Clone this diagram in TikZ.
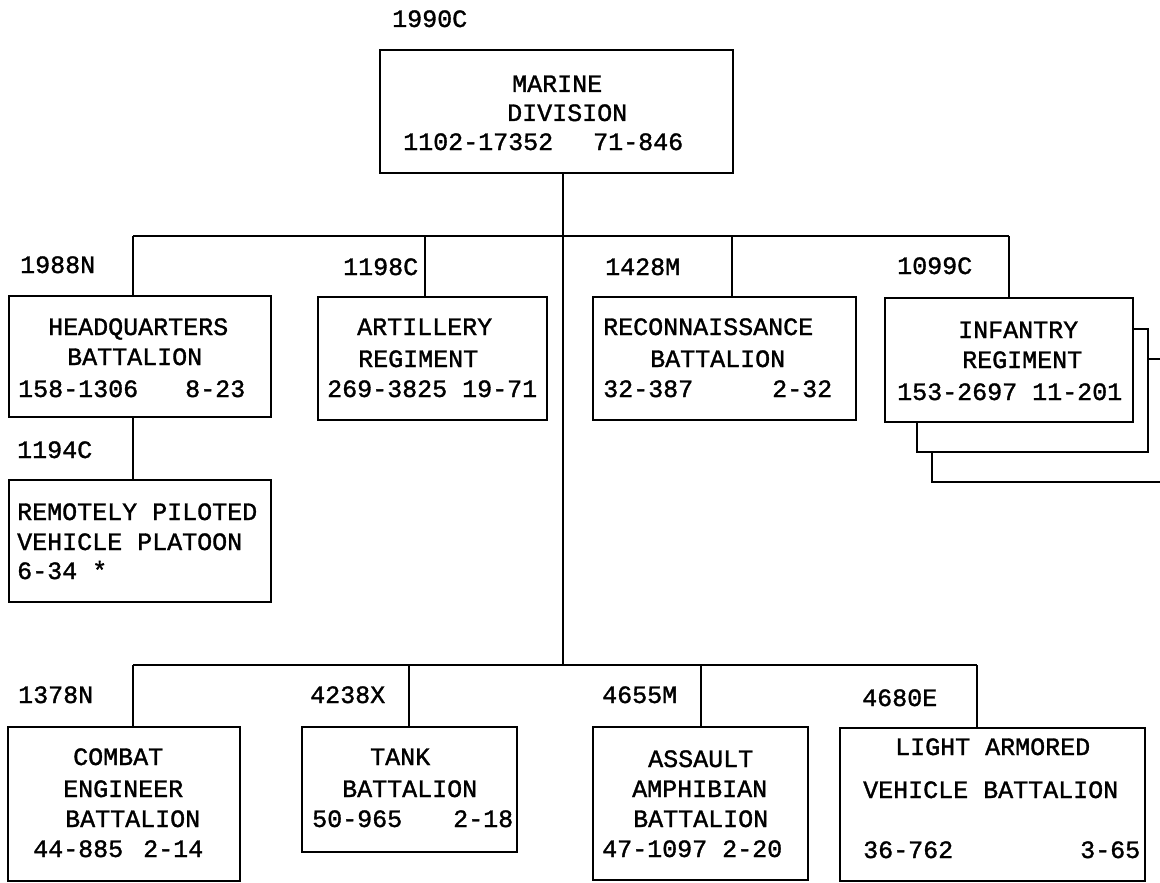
\documentclass[tikz,border=0pt]{standalone}
\usepackage{fontspec}
\newfontfamily\tw{Liberation Mono}[FakeBold=1.3]
\begin{document}
\begin{tikzpicture}[x=1pt,y=-1pt,
  box/.style={draw=black,line width=2pt,inner sep=0pt},
  ln/.style={draw=black,line width=2pt},
  txt/.style={inner sep=0pt,anchor=base west,font=\tw\fontsize{25}{25}\selectfont,text=black}]
\useasboundingbox (0,0) rectangle (1160,883);
\fill[white] (0,0) rectangle (1160,883);
% boxes (l,t)-(r,b)
\newcommand\mybox[5]{\node[box,minimum width={#4-#2},minimum height={#5-#3}] (#1) at ({(#2+#4)/2},{(#3+#5)/2}) {};}
\mybox{marine}{380}{50}{733}{173}
\mybox{hq}{9}{296}{271}{417}
\mybox{rpv}{9}{480}{271}{602}
\mybox{art}{318}{297}{547}{420}
\mybox{rec}{593}{297}{856}{420}
\mybox{inf}{885}{298}{1133}{422}
\mybox{ce}{8}{727}{240}{881}
\mybox{tank}{302}{727}{517}{852}
\mybox{aa}{593}{727}{808}{880}
\mybox{lav}{840}{728}{1145}{881}
% coordinates
\coordinate (trunk) at (563,236);
\coordinate (busb) at (563,665);
\coordinate (tA) at (133,236);
\coordinate (tB) at (425,236);
\coordinate (tC) at (732,236);
\coordinate (tD) at (1009,236);
\coordinate (bA) at (133,665);
\coordinate (bB) at (409,665);
\coordinate (bC) at (701,665);
\coordinate (bD) at (977,665);
% connectors
\draw[ln] (trunk |- marine.south) -- (busb);
\draw[ln] (tA) -- (tD);
\draw[ln] (tA) -- (tA |- hq.north);
\draw[ln] (tB) -- (tB |- art.north);
\draw[ln] (tC) -- (tC |- rec.north);
\draw[ln] (tD) -- (tD |- inf.north);
\draw[ln] (tA |- hq.south) -- (tA |- rpv.north);
\draw[ln] (bA) -- (bD);
\draw[ln] (bA) -- (bA |- ce.north);
\draw[ln] (bB) -- (bB |- tank.north);
\draw[ln] (bC) -- (bC |- aa.north);
\draw[ln] (bD) -- (bD |- lav.north);
% stacked infantry regiments
\coordinate (s1) at (1148,329);
\coordinate (s2) at (1148,452);
\coordinate (s3) at (917,452);
\coordinate (s4) at (1148,359);
\coordinate (s5) at (1160,359);
\coordinate (s6) at (932,452);
\coordinate (s7) at (932,482);
\coordinate (s8) at (1160,482);
\draw[ln] (inf.east |- s1) -- (s1) -- (s2) -- (s3) -- (s3 |- inf.south);
\draw[ln] (s4) -- (s5);
\draw[ln] (s6) -- (s7) -- (s8);
% labels
\node[txt] (l1) at (392,27) {1990C};
\node[txt] (l2) at (20,273) {1988N};
\node[txt] (l3) at (343,275) {1198C};
\node[txt] (l4) at (605,275) {1428M};
\node[txt] (l5) at (897,274) {1099C};
\node[txt] (l6) at (17,458) {1194C};
\node[txt] (l7) at (18,703) {1378N};
\node[txt] (l8) at (310,703) {4238X};
\node[txt] (l9) at (602,703) {4655M};
\node[txt] (l10) at (862,706) {4680E};
% marine
\node[txt] (m1) at (512,92) {MARINE};
\node[txt] (m2) at (507,121) {DIVISION};
\node[txt] (m3) at (403,150) {1102-17352};
\node[txt] (m4) at (593,150) {71-846};
% hq
\node[txt] (h1) at (48,335) {HEADQUARTERS};
\node[txt] (h2) at (67,365) {BATTALION};
\node[txt] (h3) at (18,397) {158-1306};
\node[txt] (h4) at (185,397) {8-23};
% rpv
\node[txt] (r1) at (17,520) {REMOTELY PILOTED};
\node[txt] (r2) at (17,550) {VEHICLE PLATOON};
\node[txt] (r3) at (17,579) {6-34 *};
% artillery
\node[txt] (a1) at (357,335) {ARTILLERY};
\node[txt] (a2) at (358,367) {REGIMENT};
\node[txt] (a3) at (327,397) {269-3825 19-71};
% recon
\node[txt] (c1) at (603,335) {RECONNAISSANCE};
\node[txt] (c2) at (650,367) {BATTALION};
\node[txt] (c3) at (603,397) {32-387};
\node[txt] (c4) at (772,397) {2-32};
% infantry
\node[txt] (i1) at (958,338) {INFANTRY};
\node[txt] (i2) at (962,368) {REGIMENT};
\node[txt] (i3) at (897,400) {153-2697 11-201};
% combat engineer
\node[txt] (e1) at (73,765) {COMBAT};
\node[txt] (e2) at (63,797) {ENGINEER};
\node[txt] (e3) at (65,827) {BATTALION};
\node[txt] (e4) at (33,857) {44-885};
\node[txt] (e5) at (143,857) {2-14};
% tank
\node[txt] (k1) at (370,765) {TANK};
\node[txt] (k2) at (342,797) {BATTALION};
\node[txt] (k3) at (312,827) {50-965};
\node[txt] (k4) at (453,827) {2-18};
% assault amphibian
\node[txt] (q1) at (648,767) {ASSAULT};
\node[txt] (q2) at (632,797) {AMPHIBIAN};
\node[txt] (q3) at (633,827) {BATTALION};
\node[txt] (q4) at (602,857) {47-1097 2-20};
% lav
\node[txt] (v1) at (895,755) {LIGHT ARMORED};
\node[txt] (v2) at (863,798) {VEHICLE BATTALION};
\node[txt] (v3) at (863,858) {36-762};
\node[txt] (v4) at (1080,858) {3-65};
\end{tikzpicture}
\end{document}
